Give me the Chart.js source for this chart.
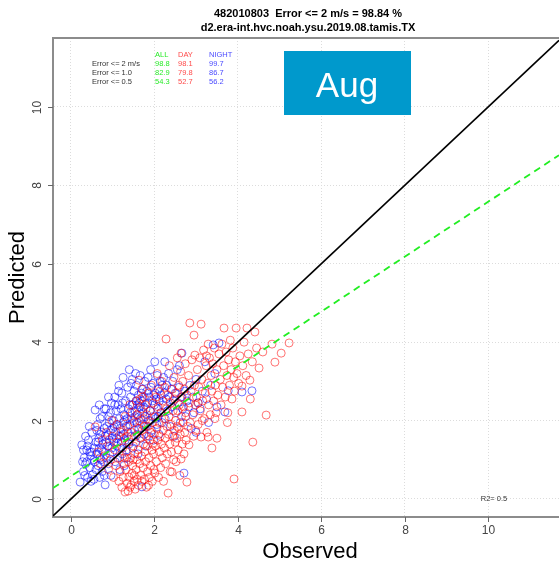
<!DOCTYPE html>
<html>
<head>
<meta charset="utf-8">
<script src="https://cdn.jsdelivr.net/npm/chart.js@4.4.1/dist/chart.umd.min.js"></script>
<style>
  html, body { margin: 0; padding: 0; background: #fff; }
  canvas { display: block; }
</style>
</head>
<body>
<canvas id="grafica" width="559" height="566"></canvas>
<script>
// datos
const titulo = ['482010803  Error <= 2 m/s = 98.84 %', 'd2.era-int.hvc.noah.ysu.2019.08.tamis.TX']
const xTicks = [0, 2, 4, 6, 8, 10]
const yTicks = [0, 2, 4, 6, 8, 10]
const xLimits = [-0.43, 11.7]
const yLimits = [-0.46, 11.76]
const fitIntercept = 0.58
const fitSlope = 0.70
const filas = ['Error <= 2 m/s', 'Error <= 1.0', 'Error <= 0.5']
const columnas = ['ALL', 'DAY', 'NIGHT']
const errAll = ['98.8', '82.9', '54.3']
const errDay = ['98.1', '79.8', '52.7']
const errNight = ['99.7', '86.7', '56.2']
const mes = 'Aug'
const r2Texto = 'R2= 0.5'

// [observado, predicho]
const nightPairs = [
  [0.22,0.43],[0.26,1.38],[0.3,0.7],[0.32,1.05],[0.35,0.9],[0.38,1.25],[0.4,0.55],[0.42,1.5],[0.45,0.8],[0.47,1.1],
  [0.5,1.7],[0.52,0.62],[0.55,1.3],[0.57,0.95],[0.58,2.27],[0.6,1.45],[0.6,0.75],[0.35,1.6],[0.28,0.95],[0.44,1.85],
  [0.5,1.2],[0.55,1.0],[0.4,1.35],[0.33,0.6],[0.48,0.45],
  [0.62,1.15],[0.64,1.9],[0.65,0.85],[0.67,1.55],[0.68,1.3],[0.7,2.05],[0.72,1.0],[0.73,1.7],[0.75,0.7],[0.76,1.4],
  [0.78,1.2],[0.8,2.3],[0.82,0.36],[0.82,1.6],[0.84,2.3],[0.85,1.05],[0.86,1.85],[0.88,1.35],[0.9,0.9],[0.9,2.1],
  [0.92,1.5],[0.93,1.15],[0.95,1.75],[0.96,0.6],[0.97,2.45],[0.98,1.3],[0.7,1.65],[0.74,1.25],[0.8,1.8],[0.88,1.62],
  [0.65,1.45],[0.92,1.95],[0.78,0.95],[0.69,0.55],[0.99,1.55],
  [1.0,1.2],[1.02,2.0],[1.03,1.45],[1.05,2.6],[1.06,0.95],[1.07,1.7],[1.08,2.25],[1.1,1.35],[1.11,1.9],[1.12,1.05],
  [1.13,2.4],[1.15,1.6],[1.16,2.05],[1.17,0.75],[1.18,1.8],[1.2,2.3],[1.21,1.45],[1.22,2.7],[1.23,1.15],[1.25,1.95],
  [1.26,1.65],[1.27,2.15],[1.28,0.85],[1.3,1.5],[1.31,2.5],[1.32,1.85],[1.33,1.25],[1.35,2.05],[1.36,2.85],[1.37,1.7],
  [1.38,2.3],[1.39,1.4],[1.4,3.3],[1.04,1.85],[1.14,2.75],[1.24,2.45],[1.34,1.05],[1.19,1.3],[1.29,2.0],[1.09,1.55],
  [1.41,1.9],[1.42,2.2],[1.43,2.6],[1.45,1.6],[1.46,2.4],[1.47,3.05],[1.48,1.3],[1.5,2.0],[1.51,2.75],[1.52,1.75],
  [1.53,2.25],[1.55,1.45],[1.56,2.5],[1.57,2.9],[1.58,1.95],[1.6,2.15],[1.61,1.15],[1.62,2.65],[1.63,1.8],[1.65,2.35],
  [1.66,3.15],[1.67,2.05],[1.68,1.55],[1.7,0.31],[1.7,2.5],[1.71,1.9],[1.72,2.8],[1.73,2.2],[1.75,1.65],[1.76,2.6],
  [1.77,3.0],[1.78,2.1],[1.79,1.35],[1.44,2.95],[1.54,2.1],[1.64,2.45],[1.74,2.35],[1.59,1.65],[1.69,2.7],[1.49,2.4],
  [1.8,2.3],[1.81,1.85],[1.82,2.75],[1.84,2.45],[1.85,3.1],[1.86,2.0],[1.87,1.6],[1.88,2.6],[1.9,2.25],[1.91,3.3],
  [1.92,2.85],[1.93,1.75],[1.95,2.5],[1.96,2.1],[1.97,2.95],[1.98,1.5],[2.0,2.4],[2.01,3.5],[2.02,2.7],[2.03,2.05],
  [2.05,2.55],[2.06,1.9],[2.07,3.15],[2.08,2.3],[2.1,2.8],[2.11,1.65],[2.12,2.5],[2.14,3.0],[2.15,2.2],[2.16,2.65],
  [2.18,1.95],[2.19,2.9],[1.89,2.0],[1.99,2.65],[2.09,2.1],
  [2.21,2.4],[2.22,3.1],[2.24,2.7],[2.25,3.5],[2.26,2.05],[2.28,2.55],[2.3,2.9],[2.32,2.25],[2.34,3.2],[2.36,2.6],
  [2.38,1.85],[2.4,2.8],[2.42,2.35],[2.44,3.0],[2.46,2.5],[2.48,1.6],[2.5,2.7],[2.52,2.2],[2.55,3.3],[2.57,2.45],
  [2.6,2.85],[2.62,1.95],[2.64,2.6],[2.66,3.72],[2.68,2.3],[2.71,0.66],[2.73,2.75],[2.75,2.1],[2.78,2.5],[2.6,3.4],
  [2.82,2.35],[2.85,2.9],[2.88,1.8],[2.92,2.6],[2.95,2.2],[3.0,3.05],[3.05,2.45],[3.1,2.3],[3.15,2.75],[3.21,3.5],
  [3.25,2.55],[3.3,1.95],[3.35,2.9],[3.41,3.93],[3.5,2.35],[3.55,3.98],[3.69,2.22],[3.77,2.76],[4.1,2.73],[4.34,2.76],
  [3.45,3.2],[3.0,1.7],
  [0.45,1.2],[0.62,1.75],[0.75,2.1],[0.95,2.2],[1.05,2.4],[1.15,2.9],[1.25,3.1],[0.55,0.5],[0.38,0.95],[0.7,1.05],
  [0.85,1.45],[1.0,1.8],[1.2,1.6],[1.45,2.05],[1.6,2.4],[0.68,2.4],[0.9,2.6],[1.55,3.2],[0.3,1.25],[0.8,0.6]
]

const dayPairs = [
  [0.58,1.84],[0.65,1.2],[0.7,0.9],[0.75,1.5],[0.8,1.1],[0.85,1.7],[0.9,0.75],[0.92,1.35],[0.95,1.0],[1.0,1.6],
  [1.02,0.55],[1.05,1.25],[1.08,0.85],[1.1,1.9],[1.12,1.45],[1.15,0.45],[1.17,1.05],[1.2,1.7],[1.18,0.7],[0.98,2.0],
  [1.22,0.3],[1.24,1.3],[1.25,0.55],[1.27,0.9],[1.28,1.55],[1.3,0.18],[1.3,2.1],[1.32,0.75],[1.33,1.2],[1.35,0.4],
  [1.36,1.85],[1.38,0.95],[1.39,0.56],[1.4,1.45],[1.41,2.4],[1.42,0.3],[1.43,1.05],[1.45,1.7],[1.46,0.65],[1.47,2.2],
  [1.48,0.85],[1.5,1.35],[1.51,0.45],[1.52,1.95],[1.53,1.15],[1.54,0.25],[1.55,1.6],[1.56,0.75],[1.57,2.5],[1.58,1.0],
  [1.59,0.5],[1.6,1.8],[1.26,1.75],[1.34,1.6],[1.44,0.35],[1.49,1.0],[1.37,0.2],[1.29,1.05],[1.52,0.6],[1.58,2.15],
  [1.61,1.25],[1.62,0.35],[1.63,3.03],[1.64,2.0],[1.65,0.9],[1.66,1.55],[1.67,0.6],[1.68,2.3],[1.69,1.1],[1.7,0.45],
  [1.71,1.75],[1.72,2.6],[1.73,0.8],[1.74,1.4],[1.75,2.05],[1.76,0.5],[1.77,1.2],[1.78,2.4],[1.79,0.95],[1.8,1.6],
  [1.81,0.3],[1.82,2.15],[1.83,1.35],[1.84,0.7],[1.85,1.85],[1.86,2.7],[1.87,1.05],[1.88,0.55],[1.89,1.5],[1.9,2.25],
  [1.91,0.85],[1.92,1.7],[1.93,2.9],[1.94,1.25],[1.95,0.45],[1.96,1.95],[1.97,2.45],[1.98,1.15],[1.99,0.75],[2.0,1.65],
  [1.66,2.55],[1.76,1.85],[1.86,0.35],[1.96,1.4],[1.7,2.8],
  [2.01,0.66],[2.02,2.1],[2.03,1.35],[2.04,2.6],[2.05,0.95],[2.06,1.8],[2.07,3.2],[2.08,1.5],[2.09,2.35],[2.1,0.55],
  [2.11,1.95],[2.12,1.2],[2.13,2.75],[2.14,1.6],[2.15,0.8],[2.16,2.2],[2.17,1.4],[2.18,3.0],[2.19,1.05],[2.2,2.5],
  [2.21,1.75],[2.22,0.45],[2.23,2.05],[2.24,1.3],[2.25,2.85],[2.26,1.55],[2.27,0.9],[2.28,4.08],[2.29,2.3],[2.3,1.85],
  [2.31,1.15],[2.32,2.65],[2.33,0.15],[2.34,1.65],[2.35,2.1],[2.36,3.4],[2.37,1.4],[2.38,0.7],[2.39,2.45],[2.4,1.9],
  [2.41,1.2],[2.42,0.69],[2.43,2.8],[2.44,1.6],[2.45,2.25],[2.46,1.0],[2.47,3.1],[2.48,1.75],[2.49,2.55],[2.5,1.45],
  [2.51,2.0],[2.52,0.95],[2.53,2.7],[2.54,1.55],[2.55,3.6],[2.56,2.25],[2.57,1.25],[2.58,2.9],[2.59,1.8],[2.6,2.4],
  [2.61,0.6],[2.62,1.65],[2.63,3.25],[2.64,1.02],[2.64,3.72],[2.65,2.1],[2.66,2.6],[2.67,1.4],[2.68,3.0],[2.69,1.95],
  [2.7,2.35],[2.71,1.15],[2.72,2.8],[2.73,1.7],[2.74,3.45],[2.75,2.2],[2.76,1.5],[2.78,0.43],[2.78,2.65],[2.8,1.85],
  [2.82,3.15],[2.83,1.38],[2.84,2.45],[2.85,4.49],[2.86,1.95],[2.88,2.75],[2.9,3.55],[2.92,2.15],[2.94,1.6],[2.95,4.18],
  [2.96,2.9],[2.97,3.67],[2.98,2.4],[2.99,1.75],[2.55,1.85],
  [3.01,2.6],[3.03,3.3],[3.05,1.9],[3.07,2.85],[3.09,3.6],[3.1,2.25],[3.12,4.46],[3.12,1.58],[3.14,3.05],[3.16,2.5],
  [3.18,3.8],[3.2,2.05],[3.22,2.7],[3.24,3.4],[3.26,1.7],[3.28,2.95],[3.29,1.58],[3.29,3.95],[3.3,2.4],[3.32,3.6],
  [3.34,2.15],[3.36,3.15],[3.38,1.3],[3.38,2.75],[3.4,3.45],[3.42,2.5],[3.44,3.85],[3.46,2.9],[3.48,2.2],[3.5,1.55],
  [3.5,3.3],[3.05,2.45],[3.25,3.65],[3.45,2.05],[3.15,2.0],
  [3.52,2.65],[3.55,3.7],[3.58,3.05],[3.6,2.4],[3.62,3.95],[3.64,2.85],[3.66,3.4],[3.67,4.36],[3.7,2.6],[3.72,3.75],
  [3.74,3.15],[3.76,2.2],[3.78,3.55],[3.8,2.9],[3.82,4.05],[3.84,3.3],[3.86,2.55],[3.88,3.85],[3.9,3.1],[3.91,0.51],
  [3.92,2.75],[3.94,3.5],[3.96,4.36],[3.98,3.2],[3.75,1.95],
  [4.02,2.95],[4.05,3.65],[4.1,2.22],[4.1,2.88],[4.12,3.4],[4.15,4.0],[4.2,3.15],[4.22,4.36],[4.25,3.7],[4.29,3.03],
  [4.35,3.5],[4.36,1.45],[4.41,4.26],[4.45,3.85],[4.51,3.34],[4.6,3.75],[4.68,2.14],[4.82,3.95],[4.89,3.49],[5.04,3.72],
  [5.23,3.98],[4.3,2.55]
]

const aPuntos = pares => pares.map(p => ({ x: p[0], y: p[1] }))

const lineaUnoAUno = [
  { x: xLimits[0], y: xLimits[0] },
  { x: xLimits[1], y: xLimits[1] }
]
const lineaAjuste = [
  { x: xLimits[0], y: fitIntercept + fitSlope * xLimits[0] },
  { x: xLimits[1], y: fitIntercept + fitSlope * xLimits[1] }
]

const fuente = '"Liberation Sans", Arial, sans-serif'

const decoracion = {
  id: 'decoracion',
  afterDraw(chart) {
    const { ctx, chartArea: a, scales: { x, y } } = chart
    ctx.save()

    // borde superior
    ctx.strokeStyle = '#8c8c8c'
    ctx.lineWidth = 2
    ctx.beginPath()
    ctx.moveTo(a.left, a.top)
    ctx.lineTo(a.right, a.top)
    ctx.stroke()

    // marcas de los ejes
    ctx.lineWidth = 1
    ctx.strokeStyle = '#666'
    ctx.fillStyle = '#444'
    ctx.font = '12px ' + fuente
    ctx.textAlign = 'center'
    ctx.textBaseline = 'middle'
    xTicks.forEach(v => {
      const px = Math.round(x.getPixelForValue(v)) + 0.5
      ctx.beginPath()
      ctx.moveTo(px, a.bottom)
      ctx.lineTo(px, a.bottom + 5)
      ctx.stroke()
      ctx.fillText(String(v), px, a.bottom + 14)
    })
    yTicks.forEach(v => {
      const py = Math.round(y.getPixelForValue(v)) + 0.5
      ctx.beginPath()
      ctx.moveTo(a.left, py)
      ctx.lineTo(a.left - 5, py)
      ctx.stroke()
      ctx.save()
      ctx.translate(a.left - 15, py)
      ctx.rotate(-Math.PI / 2)
      ctx.fillText(String(v), 0, 0)
      ctx.restore()
    })

    // titulos
    ctx.fillStyle = '#000'
    ctx.font = 'bold 11px ' + fuente
    ctx.textBaseline = 'middle'
    ctx.fillText(titulo[0], 308, 14)
    ctx.fillText(titulo[1], 308, 28)

    ctx.font = '22px ' + fuente
    ctx.fillText('Observed', 310, 552)
    ctx.save()
    ctx.translate(18, (a.top + a.bottom) / 2)
    ctx.rotate(-Math.PI / 2)
    ctx.fillText('Predicted', 0, 0)
    ctx.restore()

    // tabla de errores
    ctx.font = '7.5px ' + fuente
    ctx.textAlign = 'left'
    const colX = [155, 178, 209]
    const colores = ['rgba(0,230,0,0.85)', 'rgba(255,40,40,0.85)', 'rgba(40,40,255,0.85)']
    columnas.forEach((c, i) => {
      ctx.fillStyle = colores[i]
      ctx.fillText(c, colX[i], 55)
    })
    filas.forEach((f, j) => {
      const fy = 64 + j * 9
      ctx.fillStyle = '#333'
      ctx.fillText(f, 92, fy)
      ;[errAll, errDay, errNight].forEach((col, i) => {
        ctx.fillStyle = colores[i]
        ctx.fillText(col[j], colX[i], fy)
      })
    })

    // recuadro del mes
    ctx.fillStyle = '#0099cc'
    ctx.fillRect(284, 51, 127, 64)
    ctx.fillStyle = '#fff'
    ctx.font = '35px ' + fuente
    ctx.textAlign = 'center'
    ctx.textBaseline = 'alphabetic'
    ctx.fillText(mes, 347, 97)

    // R2
    ctx.fillStyle = '#333'
    ctx.font = '7.5px ' + fuente
    ctx.textBaseline = 'middle'
    ctx.fillText(r2Texto, 494, 499)

    ctx.restore()
  }
}

const ejeComun = (lim, ticks) => ({
  type: 'linear',
  min: lim[0],
  max: lim[1],
  afterBuildTicks: s => { s.ticks = ticks.map(v => ({ value: v })) },
  ticks: { display: false },
  grid: { color: '#dcdcdc', lineWidth: 1, drawTicks: false },
  border: { display: true, color: '#8c8c8c', width: 2, dash: [1, 2] }
})

const canvas = document.getElementById('grafica')
const context = canvas.getContext('2d')

const grafica = new Chart(context, {
  type: 'scatter',
  data: {
    datasets: [
      {
        label: '1:1',
        type: 'line',
        data: lineaUnoAUno,
        borderColor: '#000',
        borderWidth: 1.6,
        pointRadius: 0,
        order: 0
      },
      {
        label: 'ajuste',
        type: 'line',
        data: lineaAjuste,
        borderColor: '#22ee22',
        borderWidth: 1.8,
        borderDash: [7, 5],
        pointRadius: 0,
        order: 1
      },
      {
        label: 'DAY',
        data: aPuntos(dayPairs),
        borderColor: 'rgba(255,0,0,0.55)',
        backgroundColor: 'rgba(0,0,0,0)',
        borderWidth: 1,
        pointRadius: 4,
        order: 2
      },
      {
        label: 'NIGHT',
        data: aPuntos(nightPairs),
        borderColor: 'rgba(0,0,255,0.55)',
        backgroundColor: 'rgba(0,0,0,0)',
        borderWidth: 1,
        pointRadius: 4,
        order: 3
      }
    ]
  },
  options: {
    responsive: false,
    animation: false,
    devicePixelRatio: 1,
    layout: { autoPadding: false, padding: { left: 53, top: 38, right: 0, bottom: 49 } },
    plugins: {
      legend: { display: false },
      tooltip: { enabled: false },
      title: { display: false }
    },
    scales: {
      x: ejeComun(xLimits, xTicks),
      y: ejeComun(yLimits, yTicks)
    }
  },
  plugins: [decoracion]
})
</script>
</body>
</html>
